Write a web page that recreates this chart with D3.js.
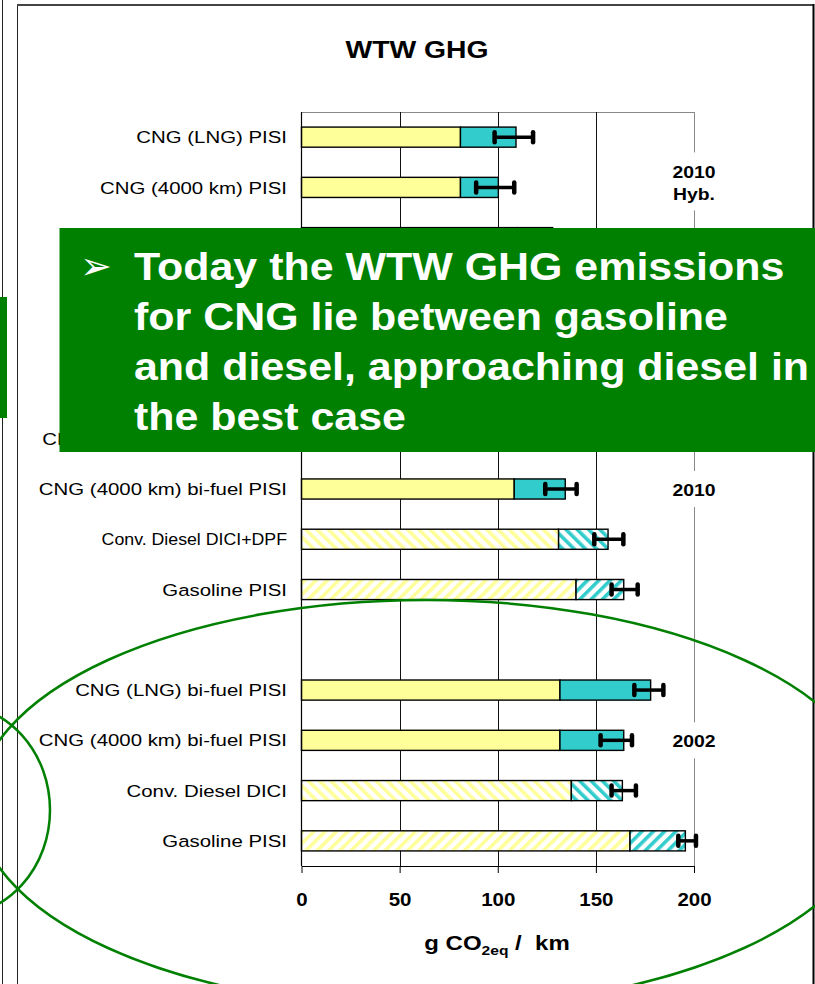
<!DOCTYPE html>
<html>
<head>
<meta charset="utf-8">
<script src="https://cdn.jsdelivr.net/npm/d3@7"></script>
<style>
body { margin: 0; background: #fff; }
text { font-family: "Liberation Sans", Arial, sans-serif; }
</style>
</head>
<body>
<div id="chart"></div>
<script>
var svgWidth = 815;
var svgHeight = 984;
var stretch = 1.2; // the slide was stretched sideways

// rows from top to bottom, "" = spacer row
var categories = ["CNG (LNG) PISI", "CNG (4000 km) PISI", "Conv. Diesel DICI+DPF", "Gasoline PISI", "", "",
	"CNG (LNG) dedicated PISI", "CNG (4000 km) bi-fuel PISI", "Conv. Diesel DICI+DPF", "Gasoline PISI", "",
	"CNG (LNG) bi-fuel PISI", "CNG (4000 km) bi-fuel PISI", "Conv. Diesel DICI", "Gasoline PISI"];
var fuel = ["cng", "cng", "diesel", "gasoline", "", "", "cng", "cng", "diesel", "gasoline", "",
	"cng", "cng", "diesel", "gasoline"];
// tank-to-wheels (yellow) and well-to-tank (teal), g CO2eq/km
var ttw = [81, 81, 110, 112, null, null, 105, 108.4, 131, 139.9, null, 131.7, 131.7, 137.5, 167.4];
var wtt = [28.3, 19.3, 18, 18, null, null, 25, 26, 25.2, 24.3, null, 46.2, 32.5, 26, 28.2];
var errLow = [98.4, 89, 120, 123, null, null, 120, 124.2, 149.2, 158, null, 169.6, 152.4, 158, 192];
var errHigh = [118, 108.4, 136, 137, null, null, 140, 140.2, 164, 171.3, null, 184.4, 168.4, 170.4, 201];
var xTicks = [0, 50, 100, 150, 200];
var groupLabels = [["2010", "Hyb."], ["2010"], ["2002"]];
var groupRows = [1, 7, 12];
var noteLines = ["Today the WTW GHG emissions", "for CNG lie between gasoline",
	"and diesel, approaching diesel in", "the best case"];

var plot = {left: 301.5, right: 694, top: 112, bottom: 866};
var green = "#008000";
var yellow = "#FFFF99";
var teal = "#33CCCC";
// the DPF label was squeezed in its text box
var squeeze = {"Conv. Diesel DICI+DPF": 0.87};

var svg = d3.select("#chart")
	.append("svg")
	.attr("width", svgWidth)
	.attr("height", svgHeight);

var x = d3.scaleLinear().domain([0, 200]).range([plot.left, plot.right]);
var y = d3.scaleBand()
	.domain(d3.range(categories.length))
	.range([plot.top, plot.bottom])
	.paddingInner(0.6)
	.paddingOuter(0.3);

// hatch patterns
var defs = svg.append("defs");
function hatch(id, color, angle) {
	var p = defs.append("pattern")
		.attr("id", id)
		.attr("patternUnits", "userSpaceOnUse")
		.attr("width", 8)
		.attr("height", 8)
		.attr("patternTransform", `rotate(${angle})`);
	p.append("rect").attr("width", 8).attr("height", 8).attr("fill", "#fff");
	p.append("rect").attr("width", 3.6).attr("height", 8).attr("fill", color);
}
hatch("yDiesel", yellow, -45);
hatch("tDiesel", teal, -45);
hatch("yGas", yellow, 45);
hatch("tGas", teal, 45);

function fillFor(i, part) {
	if (fuel[i] === "diesel") return part === "ttw" ? "url(#yDiesel)" : "url(#tDiesel)";
	if (fuel[i] === "gasoline") return part === "ttw" ? "url(#yGas)" : "url(#tGas)";
	return part === "ttw" ? yellow : teal;
}

// outer slide frame
svg.append("line").attr("x1", 2.5).attr("x2", 2.5).attr("y1", 0).attr("y2", svgHeight)
	.attr("stroke", "#222").attr("stroke-width", 1);
svg.append("line").attr("x1", 17.5).attr("x2", 17.5).attr("y1", 5).attr("y2", svgHeight)
	.attr("stroke", "#222").attr("stroke-width", 1);
svg.append("line").attr("x1", 17).attr("x2", 814).attr("y1", 5).attr("y2", 5)
	.attr("stroke", "#444").attr("stroke-width", 2);
svg.append("line").attr("x1", 813.5).attr("x2", 813.5).attr("y1", 4).attr("y2", svgHeight)
	.attr("stroke", "#000").attr("stroke-width", 2);

// title
svg.append("g")
	.attr("transform", `translate(417,58) scale(1.18,1)`)
	.append("text")
	.attr("text-anchor", "middle")
	.attr("font-size", 24)
	.attr("font-weight", "bold")
	.text("WTW GHG");

// grid + plot border
svg.append("line").attr("x1", plot.left).attr("x2", plot.right).attr("y1", plot.top + 0.5).attr("y2", plot.top + 0.5)
	.attr("stroke", "#888");
svg.selectAll(".grid")
	.data(xTicks.slice(1))
	.enter()
	.append("line")
	.attr("class", "grid")
	.attr("x1", d => Math.round(x(d)) + 0.5)
	.attr("x2", d => Math.round(x(d)) + 0.5)
	.attr("y1", plot.top)
	.attr("y2", plot.bottom)
	.attr("stroke", d => d === 200 ? "#888" : "#111")
	.attr("stroke-width", 1);

// white boxes behind the year labels
groupLabels.forEach(function(lines, k) {
	var cy = y(groupRows[k]) + y.bandwidth() / 2;
	var h = lines.length * 22 + 14;
	svg.append("rect")
		.attr("x", 662).attr("y", cy - h / 2 - (lines.length > 1 ? 6 : 0))
		.attr("width", 64).attr("height", h)
		.attr("fill", "#fff");
	lines.forEach(function(t, j) {
		svg.append("g")
			.attr("transform", `translate(${x(200)},${cy - (lines.length - 1) * 16 + j * 22 + 1}) scale(1.14,1)`)
			.append("text")
			.attr("text-anchor", "middle")
			.attr("dy", "0.35em")
			.attr("font-size", 17)
			.attr("font-weight", "bold")
			.text(t);
	});
});

// bars
var rows = d3.range(categories.length).filter(i => ttw[i] !== null);
var barG = svg.append("g");
barG.selectAll(".ttw")
	.data(rows)
	.enter()
	.append("rect")
	.attr("class", "ttw")
	.attr("x", x(0))
	.attr("y", i => y(i))
	.attr("width", i => x(ttw[i]) - x(0))
	.attr("height", y.bandwidth())
	.attr("fill", i => fillFor(i, "ttw"))
	.attr("stroke", "#000")
	.attr("stroke-width", 1.4);
barG.selectAll(".wtt")
	.data(rows)
	.enter()
	.append("rect")
	.attr("class", "wtt")
	.attr("x", i => x(ttw[i]))
	.attr("y", i => y(i))
	.attr("width", i => x(ttw[i] + wtt[i]) - x(ttw[i]))
	.attr("height", y.bandwidth())
	.attr("fill", i => fillFor(i, "wtt"))
	.attr("stroke", "#000")
	.attr("stroke-width", 1.4);

// error bars
var errG = svg.append("g").attr("stroke", "#000");
rows.forEach(function(i) {
	var cy = y(i) + y.bandwidth() / 2;
	errG.append("line")
		.attr("x1", x(errLow[i])).attr("x2", x(errHigh[i]))
		.attr("y1", cy).attr("y2", cy)
		.attr("stroke-width", 3.5);
	[errLow[i], errHigh[i]].forEach(function(v) {
		errG.append("line")
			.attr("x1", x(v)).attr("x2", x(v))
			.attr("y1", cy - 5).attr("y2", cy + 5)
			.attr("stroke-width", 4.5)
			.attr("stroke-linecap", "round");
	});
});

// category labels
svg.selectAll(".cat")
	.data(rows)
	.enter()
	.append("g")
	.attr("class", "cat")
	.attr("transform", i => `translate(287,${y(i) + y.bandwidth() / 2}) scale(${stretch * (squeeze[categories[i]] || 1)},1)`)
	.append("text")
	.attr("text-anchor", "end")
	.attr("dy", "0.36em")
	.attr("font-size", 17)
	.text(i => categories[i]);

// axes
svg.append("line").attr("x1", plot.left).attr("x2", plot.left).attr("y1", plot.top).attr("y2", plot.bottom)
	.attr("stroke", "#000").attr("stroke-width", 1.2);
var xAxis = d3.axisBottom(x).tickValues(xTicks).tickSize(7).tickSizeOuter(0);
var axisG = svg.append("g")
	.attr("transform", `translate(0,${plot.bottom})`)
	.call(xAxis)
	.attr("font-family", null)
	.attr("font-size", null);
axisG.select(".domain").attr("stroke", "#000").attr("stroke-width", 1.2);
axisG.selectAll(".tick line").attr("stroke", "#000");
axisG.selectAll(".tick text")
	.attr("y", 40)
	.attr("dy", null)
	.attr("fill", "#000")
	.attr("font-size", 18)
	.attr("font-weight", "bold")
	.attr("transform", `scale(1.14,1)`);

var xTitle = svg.append("g")
	.attr("transform", `translate(497,950) scale(1.2,1)`)
	.append("text")
	.attr("text-anchor", "middle")
	.attr("font-size", 20)
	.attr("font-weight", "bold")
	.attr("xml:space", "preserve")
	.style("white-space", "pre");
xTitle.append("tspan").text("g CO");
xTitle.append("tspan").attr("font-size", 13).attr("dy", 5).text("2eq");
xTitle.append("tspan").attr("dy", -5).text(" /  km");

// hand-drawn ellipses
svg.append("ellipse")
	.attr("cx", 426).attr("cy", 804).attr("rx", 449).attr("ry", 204)
	.attr("fill", "none").attr("stroke", green).attr("stroke-width", 2.5);
svg.append("ellipse")
	.attr("cx", -46).attr("cy", 810).attr("rx", 96).attr("ry", 106)
	.attr("fill", "none").attr("stroke", green).attr("stroke-width", 2.5);

// callout box
svg.append("rect").attr("x", 0).attr("y", 297).attr("width", 7).attr("height", 121).attr("fill", green);
svg.append("rect").attr("x", 59.5).attr("y", 228).attr("width", 760).attr("height", 224).attr("fill", green);
svg.append("text")
	.attr("x", 80).attr("y", 279)
	.attr("fill", "#fff")
	.attr("font-size", 38)
	.style("font-family", "'DejaVu Sans', sans-serif")
	.text("\u27A2");
svg.selectAll(".note")
	.data(noteLines)
	.enter()
	.append("g")
	.attr("class", "note")
	.attr("transform", (d, i) => `translate(134,${280 + i * 50}) scale(1.13,1)`)
	.append("text")
	.attr("fill", "#fff")
	.attr("font-size", 38)
	.attr("font-weight", "bold")
	.text(d => d);
</script>
</body>
</html>
